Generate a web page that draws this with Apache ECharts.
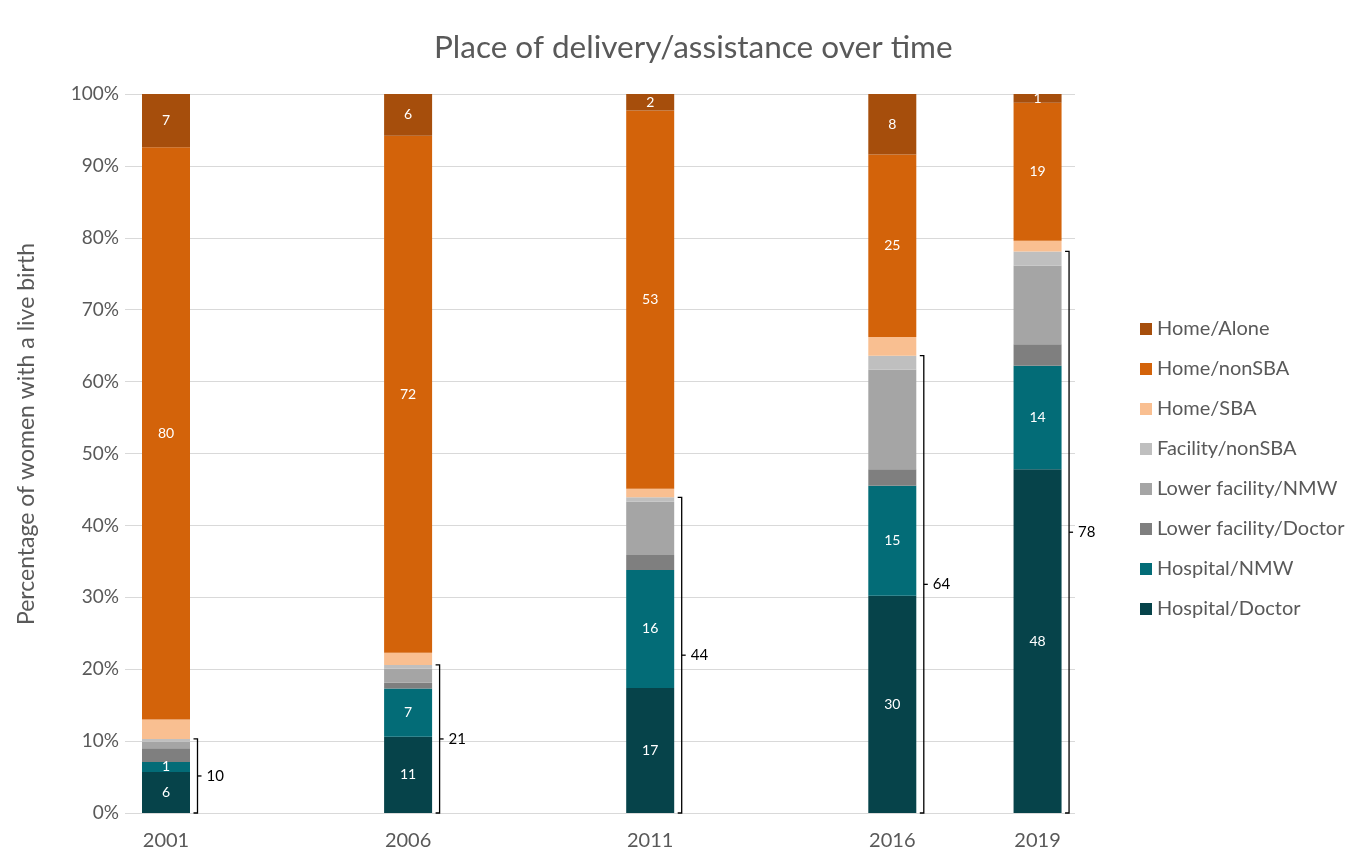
<!DOCTYPE html>
<html>
<head>
<meta charset="utf-8">
<script src="https://cdn.jsdelivr.net/npm/echarts@6/dist/echarts.min.js"></script>
<style>
  html, body { margin: 0; padding: 0; background: #ffffff; }
  #chart { width: 1357px; height: 862px; }
</style>
</head>
<body>
<div id="chart"></div>
<script>
// Survey years
const years = [2001, 2006, 2011, 2016, 2019];
// Every calendar year on the horizontal axis, so the surveys sit at their true spacing
const calendarYears = [];
for (let y = 2000; y <= 2019; y++) calendarYears.push(String(y));

// Percentage of women with a live birth, by place of delivery / assistance
const hospitalDoctor = [5.7, 10.6, 17.4, 30.2, 47.8];
const hospitalNMW = [1.4, 6.7, 16.4, 15.3, 14.4];
const lowerFacilityDoctor = [1.9, 0.8, 2.1, 2.3, 3.0];
const lowerFacilityNMW = [0.9, 2.0, 7.4, 13.9, 10.9];
const facilityNonSBA = [0.4, 0.5, 0.6, 1.9, 2.0];
const homeSBA = [2.7, 1.7, 1.2, 2.6, 1.5];
const homeNonSBA = [79.6, 71.9, 52.6, 25.4, 19.2];
const homeAlone = [7.4, 5.8, 2.3, 8.4, 1.2];

const FONT = 'Lato, "Open Sans", sans-serif';
const GREY_TEXT = '#595959';

// Stack order, bottom to top
const layers = [
  { name: 'Hospital/Doctor', data: hospitalDoctor, color: '#06434A', label: true },
  { name: 'Hospital/NMW', data: hospitalNMW, color: '#036C77', label: true },
  { name: 'Lower facility/Doctor', data: lowerFacilityDoctor, color: '#7F7F7F', label: false },
  { name: 'Lower facility/NMW', data: lowerFacilityNMW, color: '#A5A5A5', label: false },
  { name: 'Facility/nonSBA', data: facilityNonSBA, color: '#BFBFBF', label: false },
  { name: 'Home/SBA', data: homeSBA, color: '#F9BF91', label: false },
  { name: 'Home/nonSBA', data: homeNonSBA, color: '#D3630A', label: true },
  { name: 'Home/Alone', data: homeAlone, color: '#A64E0C', label: true }
];

// Spread a per-survey array over the calendar-year categories
const onCalendar = arr => calendarYears.map(c => {
  const i = years.indexOf(+c);
  return i >= 0 ? arr[i] : '-';
});

// Facility births = all facility layers added together
const facilityTotals = years.map((y, i) =>
  hospitalDoctor[i] + hospitalNMW[i] + lowerFacilityDoctor[i] +
  lowerFacilityNMW[i] + facilityNonSBA[i]);

const BAR_WIDTH = 48;
const YEAR_PX = 48.42;
const FIRST_BAR_X = 166;

const barSeries = layers.map(l => ({
  name: l.name,
  type: 'bar',
  stack: 'total',
  xAxisIndex: 1,
  yAxisIndex: 1,
  barWidth: BAR_WIDTH,
  itemStyle: { color: l.color },
  label: {
    show: l.label,
    position: 'inside',
    color: '#ffffff',
    fontFamily: FONT,
    fontSize: 14,
    formatter: p => String(Math.round(p.value))
  },
  emphasis: { disabled: true },
  data: onCalendar(l.data)
}));

// Bracket to the right of each bar spanning the facility share
const bracketSeries = {
  type: 'custom',
  name: 'facility',
  silent: true,
  xAxisIndex: 1,
  yAxisIndex: 1,
  z: 5,
  renderItem: function (params, api) {
    const cat = api.value(0);
    const total = api.value(1);
    const top = api.coord([cat, total]);
    const bottom = api.coord([cat, 0]);
    const x = top[0] + BAR_WIDTH / 2 + 7.5;
    const midY = (top[1] + bottom[1]) / 2;
    const lineStyle = { stroke: '#000000', lineWidth: 1.3, fill: null };
    return {
      type: 'group',
      children: [
        {
          type: 'polyline',
          shape: { points: [[x - 4, top[1]], [x, top[1]], [x, bottom[1]], [x - 4, bottom[1]]] },
          style: lineStyle
        },
        {
          type: 'line',
          shape: { x1: x, y1: midY, x2: x + 4, y2: midY },
          style: lineStyle
        },
        {
          type: 'text',
          style: {
            x: x + 9,
            y: midY,
            text: String(Math.round(total)),
            fill: '#000000',
            font: '15px ' + FONT,
            verticalAlign: 'middle',
            align: 'left'
          }
        }
      ]
    };
  },
  data: years.map((y, i) => [String(y), facilityTotals[i]])
};

// Bar grid: one category per calendar year starting at 2000
const barGridLeft = FIRST_BAR_X - 1.5 * YEAR_PX;
const barGridWidth = calendarYears.length * YEAR_PX;

const chart = echarts.init(document.getElementById('chart'), null, { renderer: 'canvas' });

chart.setOption({
  animation: false,
  backgroundColor: '#ffffff',
  title: {
    text: 'Place of delivery/assistance over time',
    left: 429,
    top: 27,
    textStyle: { fontFamily: FONT, fontSize: 31.5, fontWeight: 'normal', color: GREY_TEXT }
  },
  legend: {
    orient: 'vertical',
    left: 1135,
    top: 314,
    itemWidth: 12,
    itemHeight: 12,
    itemGap: 20,
    icon: 'rect',
    data: layers.slice().reverse().map(l => l.name),
    textStyle: { fontFamily: FONT, fontSize: 20, color: GREY_TEXT }
  },
  // vertical axis title
  graphic: [{
    type: 'text',
    x: 27,
    y: 434,
    rotation: Math.PI / 2,
    style: {
      text: 'Percentage of women with a live birth',
      font: '23px ' + FONT,
      fill: GREY_TEXT,
      align: 'center',
      verticalAlign: 'middle'
    }
  }],
  grid: [
    // plot frame with the percentage gridlines
    { left: 125, right: 282, top: 94, bottom: 49, containLabel: false },
    // bars
    { left: barGridLeft, width: barGridWidth, top: 94, bottom: 49, containLabel: false }
  ],
  xAxis: [
    { type: 'value', gridIndex: 0, show: false, min: 0, max: 1 },
    {
      type: 'category',
      gridIndex: 1,
      data: calendarYears,
      axisLine: { show: false },
      axisTick: { show: false },
      splitLine: { show: false },
      axisLabel: {
        interval: (idx, val) => years.includes(+val),
        fontFamily: FONT,
        fontSize: 20,
        color: GREY_TEXT,
        margin: 18
      }
    }
  ],
  yAxis: [
    {
      type: 'value',
      gridIndex: 0,
      min: 0,
      max: 100,
      interval: 10,
      axisLine: { show: false },
      axisTick: { show: false },
      splitLine: { lineStyle: { color: '#d9d9d9', width: 1 } },
      axisLabel: {
        formatter: v => v + '%',
        fontFamily: FONT,
        fontSize: 19,
        color: GREY_TEXT,
        margin: 6
      }
    },
    { type: 'value', gridIndex: 1, min: 0, max: 100, show: false, splitLine: { show: false } }
  ],
  series: [...barSeries, bracketSeries]
});
</script>
</body>
</html>
